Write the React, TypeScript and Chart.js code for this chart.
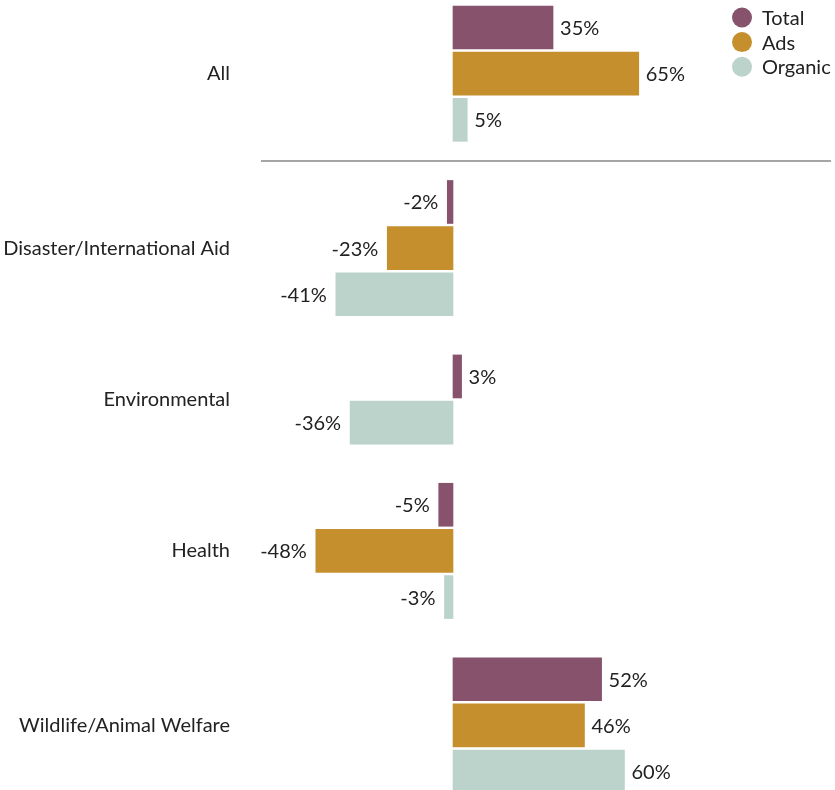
import React, { useEffect, useRef } from "react";
import { Chart, registerables } from "chart.js";

Chart.register(...registerables);

const categories = [
  "All",
  "Disaster/International Aid",
  "Environmental",
  "Health",
  "Wildlife/Animal Welfare",
];
const seriesNames = ["Total", "Ads", "Organic"];
const totalValues: (number | null)[] = [35, -2, 3, -5, 52];
const adsValues: (number | null)[] = [65, -23, null, -48, 46];
const organicValues: (number | null)[] = [5, -41, -36, -3, 60];
const seriesColors = ["#86526c", "#c58f2e", "#bcd3cb"];

const FONT_FAMILY = "Lato, 'Open Sans', sans-serif";
const FONT_SIZE = 20;
const TEXT_COLOR = "#222222";
const GROUP_GAP = 0.78;

export default function App() {
  const canvasRef = useRef<HTMLCanvasElement | null>(null);

  useEffect(() => {
    const series = [totalValues, adsValues, organicValues];
    // slot positions derived from the data (null values take no slot)
    const barPos: number[][] = series.map(() => []);
    const groupCenters: number[] = [];
    let pos = 0;
    categories.forEach((_, g) => {
      const start = pos;
      series.forEach((vals, s) => {
        if (vals[g] !== null) {
          barPos[s][g] = pos;
          pos += 1;
        }
      });
      groupCenters[g] = (start + pos - 1) / 2;
      pos += GROUP_GAP;
    });
    const firstGroupLast = barPos.reduce((m, arr) => (arr[0] !== undefined ? Math.max(m, arr[0]) : m), -Infinity);
    const secondGroupFirst = barPos.reduce((m, arr) => (arr[1] !== undefined ? Math.min(m, arr[1]) : m), Infinity);
    const separatorPos = (firstGroupLast + secondGroupFirst) / 2;

    const datasets = series.map((vals, s) => ({
      label: seriesNames[s],
      backgroundColor: seriesColors[s],
      borderWidth: 0,
      barThickness: 43,
      grouped: false,
      clip: false as any,
      data: categories
        .map((_, g) => (vals[g] === null ? null : { x: vals[g] as number, y: barPos[s][g] }))
        .filter((d) => d !== null) as { x: number; y: number }[],
    }));

    const font = `${FONT_SIZE}px ${FONT_FAMILY}`;

    const separatorPlugin = {
      id: "separator",
      beforeDatasetsDraw(chart: any) {
        const { ctx, chartArea, scales } = chart;
        const y = scales.y.getPixelForValue(separatorPos);
        ctx.save();
        ctx.strokeStyle = "#a5a5a5";
        ctx.lineWidth = 2;
        ctx.beginPath();
        ctx.moveTo(chartArea.left, y);
        ctx.lineTo(chartArea.right, y);
        ctx.stroke();
        ctx.restore();
      },
    };

    const valueLabelPlugin = {
      id: "valueLabels",
      afterDatasetsDraw(chart: any) {
        const { ctx } = chart;
        ctx.save();
        ctx.font = font;
        ctx.fillStyle = TEXT_COLOR;
        ctx.textBaseline = "middle";
        chart.data.datasets.forEach((ds: any, i: number) => {
          const meta = chart.getDatasetMeta(i);
          meta.data.forEach((el: any, j: number) => {
            const v = ds.data[j].x;
            const text = `${v}%`;
            if (v >= 0) {
              ctx.textAlign = "left";
              ctx.fillText(text, el.x + 7, el.y + 1);
            } else {
              ctx.textAlign = "right";
              ctx.fillText(text, el.x - 9, el.y + 1);
            }
          });
        });
        ctx.restore();
      },
    };

    const legendPlugin = {
      id: "customLegend",
      afterDraw(chart: any) {
        const { ctx } = chart;
        ctx.save();
        ctx.font = font;
        ctx.textBaseline = "middle";
        ctx.textAlign = "left";
        chart.data.datasets.forEach((ds: any, i: number) => {
          const cy = 17.5 + i * 24.6;
          ctx.fillStyle = ds.backgroundColor;
          ctx.beginPath();
          ctx.arc(742, cy, 10, 0, Math.PI * 2);
          ctx.fill();
          ctx.fillStyle = TEXT_COLOR;
          ctx.fillText(ds.label, 762, cy + 1);
        });
        ctx.restore();
      },
    };

    let chart: Chart | null = null;
    let cancelled = false;
    const create = () => {
      if (cancelled || !canvasRef.current) return;
      chart = new Chart(canvasRef.current, {
        type: "bar",
        data: { datasets: datasets as any },
        options: {
          indexAxis: "y",
          animation: false,
          responsive: false,
          layout: { padding: { left: 0, right: 4, top: 0, bottom: 0 } },
          plugins: {
            legend: { display: false },
            tooltip: { enabled: false },
          },
          scales: {
            x: {
              type: "linear",
              min: -67.18,
              max: 132.26,
              display: false,
            },
            y: {
              type: "linear",
              reverse: true,
              offset: false,
              min: -0.596,
              max: 16.52,
              grid: { display: false, drawTicks: false },
              border: { display: false },
              afterFit: (scale: any) => {
                scale.width = 261;
                scale.paddingTop = 0;
                scale.paddingBottom = 0;
              },
              afterBuildTicks: (scale: any) => {
                scale.ticks = groupCenters.map((v) => ({ value: v }));
              },
              ticks: {
                autoSkip: false,
                padding: 31,
                color: TEXT_COLOR,
                font: { family: FONT_FAMILY, size: FONT_SIZE },
                callback: (value: any) => {
                  const idx = groupCenters.findIndex((c) => Math.abs(c - Number(value)) < 1e-6);
                  return idx >= 0 ? categories[idx] : "";
                },
              },
            },
          },
        },
        plugins: [separatorPlugin, valueLabelPlugin, legendPlugin],
      });
    };

    if (document.fonts && document.fonts.load) {
      document.fonts.load(font).then(create, create);
    } else {
      create();
    }

    return () => {
      cancelled = true;
      if (chart) chart.destroy();
    };
  }, []);

  return (
    <div style={{ position: "fixed", left: 0, top: 0, width: 835, height: 790, background: "#ffffff" }}>
      <canvas ref={canvasRef} width={835} height={790} style={{ display: "block" }} />
    </div>
  );
}
